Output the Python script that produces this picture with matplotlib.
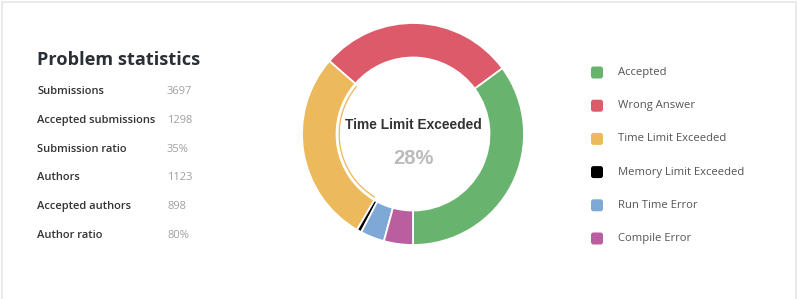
import matplotlib
matplotlib.use("Agg")
import matplotlib.pyplot as plt
from matplotlib.patches import FancyBboxPatch, Wedge

# ---- data ----
stat_labels = ["Submissions", "Accepted submissions", "Submission ratio",
               "Authors", "Accepted authors", "Author ratio"]
stat_values = ["3697", "1298", "35%", "1123", "898", "80%"]

verdicts = ["Accepted", "Wrong Answer", "Time Limit Exceeded",
            "Memory Limit Exceeded", "Run Time Error", "Compile Error"]
counts = [1298, 1053, 1035, 25, 130, 156]
colors = ["#68b36e", "#dc5a69", "#ecb95c", "#000000", "#7ea8d6", "#bb5e9f"]
highlight = "Time Limit Exceeded"

W, H = 800, 299
fig = plt.figure(figsize=(W / 100, H / 100), dpi=100)
ax = fig.add_axes([0, 0, 1, 1])

def Y(py):
    return H - py

# donut
cx, cy, R, width = 413, 134, 111, 34.5
wedges, _ = ax.pie(counts, colors=colors, startangle=270, counterclock=True,
                   center=(cx, Y(cy)), radius=R,
                   wedgeprops=dict(width=width, edgecolor="white", linewidth=1.3))
ax.set_xlim(0, W)
ax.set_ylim(0, H)
ax.set_aspect("equal")
ax.axis("off")

# hover highlight arc inside the highlighted slice
hi = verdicts.index(highlight)
w = wedges[hi]
ax.add_patch(Wedge((cx, Y(cy)), R - width - 2.0, w.theta1 + 0.8, w.theta2 - 0.8,
                   width=1.3, facecolor=colors[hi], edgecolor="none"))

total = sum(counts)
pct = round(100 * counts[hi] / total)
ax.text(cx, Y(125), highlight, ha="center", va="center", fontsize=9.9,
        fontweight="bold", color="#333333", family="Liberation Sans")
ax.text(cx, Y(158), f"{pct}%", ha="center", va="center", fontsize=14.5,
        fontweight="bold", color="#bbbbbb", family="Liberation Sans")

# left stats
ax.text(37, Y(60), "Problem statistics", ha="left", va="center", fontsize=13.1,
        fontweight="bold", color="#2a2e35", family="Open Sans")
for i, (lab, val) in enumerate(zip(stat_labels, stat_values)):
    y = 91.5 + i * 28.8
    ax.text(37, Y(y), lab, ha="left", va="center", fontsize=8.0,
            fontweight="semibold", color="#333333", family="Open Sans")
    ax.text(167, Y(y), val, ha="left", va="center", fontsize=8.0,
            color="#a0a0a0", family="Open Sans")

# legend
for i, (lab, col) in enumerate(zip(verdicts, colors)):
    y = 72.5 + i * 33.2
    ax.add_patch(FancyBboxPatch((591, Y(y) - 6), 12, 12,
                                boxstyle="round,pad=0,rounding_size=2.5",
                                facecolor=col, edgecolor="none"))
    ax.text(618, Y(y), lab, ha="left", va="center", fontsize=8.15,
            color="#555555", family="Open Sans")

# card border
ax.plot([1.5, 1.5, 795.5, 795.5], [0, Y(1.5), Y(1.5), 0],
        color="#e6e6e6", linewidth=1.2, solid_capstyle="butt")

fig.savefig("out.png", dpi=100, facecolor="white")
